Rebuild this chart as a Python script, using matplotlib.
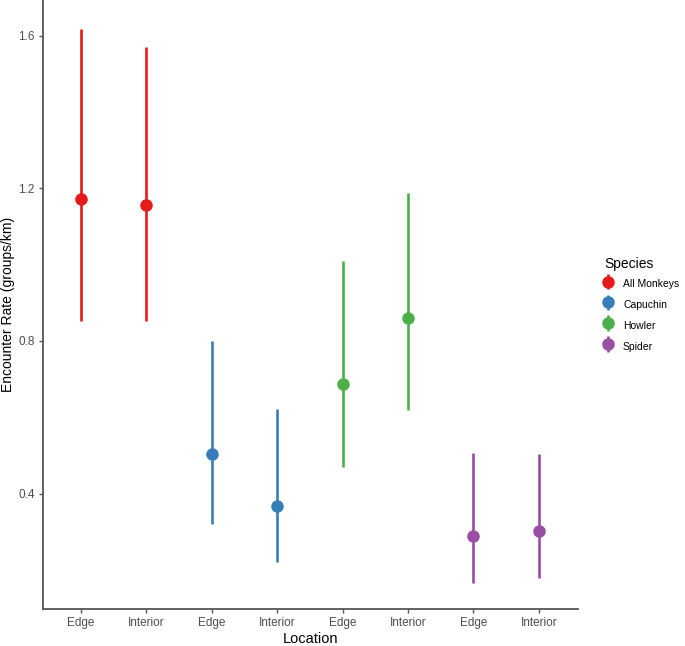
import matplotlib
matplotlib.use("Agg")
import matplotlib.pyplot as plt
from matplotlib.legend_handler import HandlerErrorbar
from matplotlib.container import ErrorbarContainer
import numpy as np

plt.rcParams['font.family'] = ['Liberation Sans', 'DejaVu Sans']

# data
species = ['All Monkeys', 'Capuchin', 'Howler', 'Spider']
locations = ['Edge', 'Interior']
rate = [[1.171, 1.155], [0.505, 0.367], [0.688, 0.859], [0.289, 0.301]]
lower = [[0.853, 0.853], [0.321, 0.222], [0.470, 0.620], [0.166, 0.180]]
upper = [[1.618, 1.570], [0.799, 0.621], [1.010, 1.187], [0.506, 0.505]]
colors = ['#E41A1C', '#377EB8', '#4DAF4A', '#984EA3']

fig = plt.figure(figsize=(6.85, 6.46), dpi=100)
ax = fig.add_axes([43/685, 1 - 609/646, (578 - 43)/685, 609/646])

tick_labels = []
handles = []
pos = 1
for i, sp in enumerate(species):
    x = np.arange(pos, pos + len(locations))
    y = np.array(rate[i])
    err = [y - np.array(lower[i]), np.array(upper[i]) - y]
    h = ax.errorbar(x, y, yerr=err, fmt='o', color=colors[i], ms=8,
                    elinewidth=1.9, capsize=0, label=sp)
    handles.append(h)
    tick_labels += locations
    pos += len(locations)

ax.set_xlim(0.42, 8.6)
ax.set_ylim(0.098, 1.693)
ax.set_xticks(np.arange(1, len(tick_labels) + 1))
ax.set_xticklabels(tick_labels)
ax.set_yticks([0.4, 0.8, 1.2, 1.6])
ax.set_yticklabels(['0.4', '0.8', '1.2', '1.6'])

for s in ['top', 'right']:
    ax.spines[s].set_visible(False)
for s in ['left', 'bottom']:
    ax.spines[s].set_color('#555555')
    ax.spines[s].set_linewidth(1.3)
ax.tick_params(colors='#555555', labelcolor='#4D4D4D', labelsize=8.5,
               length=3, width=1, pad=3)

ax.set_xlabel('Location', fontsize=10.5, labelpad=2)
ax.set_ylabel('Encounter Rate (groups/km)', fontsize=10)
ax.yaxis.set_label_coords(-0.052, 0.5)

leg = fig.legend(handles=handles, labels=species, loc='upper left',
                 bbox_to_anchor=(597/685, 1 - 250/646), frameon=False,
                 title='Species', fontsize=7.5, title_fontsize=10,
                 handlelength=0.8, handleheight=2.0, labelspacing=0.45,
                 handletextpad=1.0, borderaxespad=0.3,
                 handler_map={ErrorbarContainer: HandlerErrorbar(yerr_size=0.75)})
leg._legend_box.align = 'left'

fig.savefig('out.png', dpi=100)
